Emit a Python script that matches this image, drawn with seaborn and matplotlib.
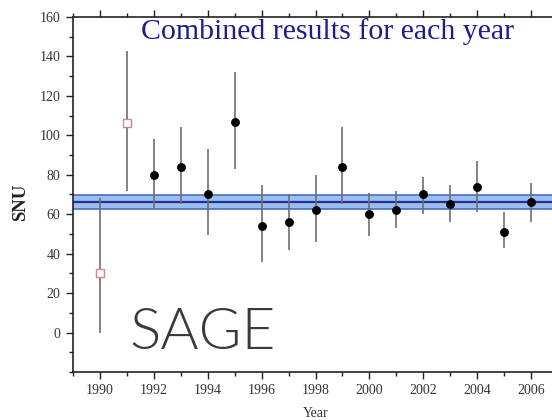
import numpy as np
import pandas as pd
import matplotlib
matplotlib.use("Agg")
import matplotlib.pyplot as plt
from matplotlib.ticker import MultipleLocator
import seaborn as sns

# Yearly gallium capture rates (SNU) with 1-sigma ranges
years = [1990, 1991, 1992, 1993, 1994, 1995, 1996, 1997, 1998,
         1999, 2000, 2001, 2002, 2003, 2004, 2005, 2006]
rate = [30, 106, 80, 84, 70, 107, 54, 56, 62,
        84, 60, 62, 70, 65, 74, 51, 66]
rate_low = [0, 72, 63, 65, 49.6, 83, 36, 42, 46,
            65, 49, 53, 60, 56, 61, 43, 56]
rate_high = [68, 143, 98, 104, 93, 132, 75, 70, 80,
             104, 71, 72, 79, 75, 87, 61, 76]
early_run = [True, True] + [False] * 15

# Combined result and its band
combined_mean = 66.2
combined_low = 62.6
combined_high = 69.8

df = pd.DataFrame({"year": years, "rate": rate, "low": rate_low,
                   "high": rate_high, "early": early_run})

sns.set_theme(style="white")
plt.rcParams["font.family"] = ["Liberation Serif", "DejaVu Serif"]

fig = plt.figure(figsize=(5.52, 4.20), dpi=100)
ax = fig.add_axes([73 / 552, 48 / 420, 485 / 552, 355 / 420])

# combined band
ax.axhspan(combined_low, combined_high, color="#9dbdf5", zorder=1, lw=0)
for yv in (combined_low, combined_high):
    ax.axhline(yv, color="#4a6cc4", lw=1.2, zorder=2)
ax.axhline(combined_mean, color="#22338a", lw=1.6, zorder=2)

# error bars
ax.vlines(df["year"], df["low"], df["high"], color="#6e6e6e", lw=1.2, zorder=3)

# points
sns.scatterplot(data=df[~df["early"]], x="year", y="rate", ax=ax,
                marker="o", s=34, color="black", edgecolor="black",
                linewidth=0.5, zorder=4, legend=False)
sns.scatterplot(data=df[df["early"]], x="year", y="rate", ax=ax,
                marker="s", s=26, facecolor="white", edgecolor="#c88a8a",
                linewidth=1.0, zorder=4, legend=False)

ax.set_xlim(1989, 2007)
ax.set_ylim(-20, 160)
ax.xaxis.set_major_locator(MultipleLocator(2))
ax.xaxis.set_minor_locator(MultipleLocator(1))
ax.yaxis.set_minor_locator(MultipleLocator(10))
ax.set_yticks([0, 20, 40, 60, 80, 100, 120, 140, 160])

ax.tick_params(axis="both", which="major", direction="out", length=5,
               width=1.0, color="#222222", labelsize=10, labelcolor="#333333",
               top=True, bottom=True, left=True, right=False, pad=4)
ax.tick_params(axis="both", which="minor", direction="out", length=3,
               width=1.0, color="#222222", top=True, bottom=True,
               left=True, right=False)
ax.tick_params(axis="x", which="both", labeltop=False)
for side in ("left", "bottom", "top", "right"):
    ax.spines[side].set_color("#222222")
    ax.spines[side].set_linewidth(1.2)

ax.set_xlabel("Year", fontsize=10, color="#333333", labelpad=7)
ax.set_ylabel("SNU", fontsize=13.5, fontweight="bold", color="#222222")
ax.yaxis.set_label_coords(-0.09, 0.478)

ax.text(1998.44, 152.5, "Combined results for each year", ha="center",
        va="center", fontsize=21.5, color="#1c1c8c",
        family=["Liberation Serif", "DejaVu Serif"])
ax.text(1991.08, -8.3, "SAGE", ha="left", va="baseline", fontsize=42,
        color="#3a3a3a", family=["Lato", "DejaVu Sans"], fontweight=300)

fig.savefig("out.png", dpi=100)
